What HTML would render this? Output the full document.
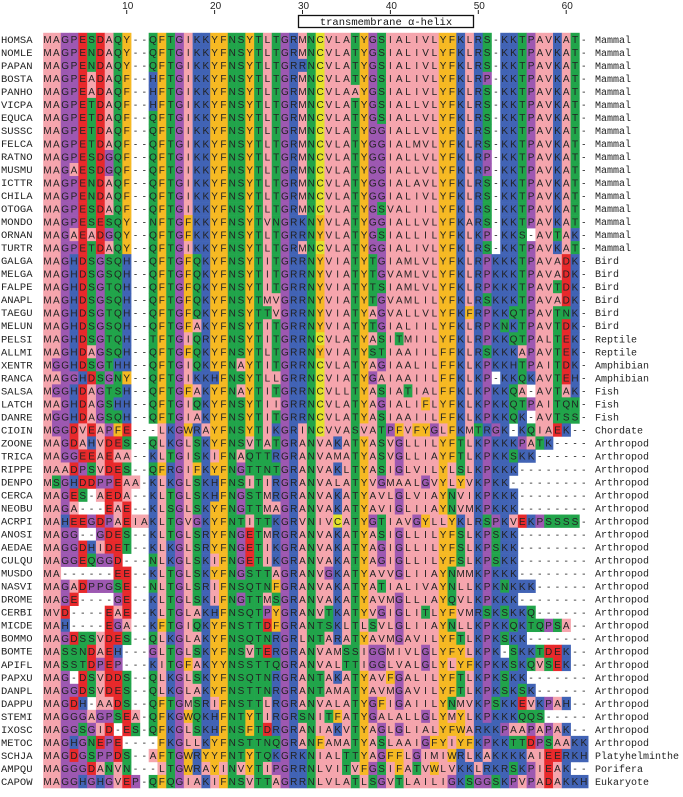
<!DOCTYPE html>
<html><head><meta charset="utf-8"><style>
body{margin:0;background:#fff;width:683px;height:797px;overflow:hidden}
svg{display:block}
.res{font-family:"Liberation Sans",sans-serif;font-size:10px;fill:#222}
.nm{font-family:"Liberation Mono",monospace;font-size:10.5px;fill:#222}
.gl{font-family:"Liberation Mono",monospace;font-size:10px;fill:#222}
.tk{font-family:"Liberation Sans",sans-serif;font-size:10px;fill:#222}
</style></head><body>
<svg id="aln" width="683" height="797" xmlns="http://www.w3.org/2000/svg">
<g id="ruler"></g>
<g>
<rect x="298.5" y="15.5" width="175" height="12" fill="#fff" stroke="#111" stroke-width="1.3"/>
<text x="386" y="25" text-anchor="middle" style="font-family:'Liberation Mono',monospace;font-size:10.5px" fill="#111">transmembrane α-helix</text>
</g>
<g id="rows"></g>
</svg>
<script>
const names=["HOMSA","NOMLE","PAPAN","BOSTA","PANHO","VICPA","EQUCA","SUSSC","FELCA","RATNO","MUSMU","ICTTR","CHILA","OTOGA","MONDO","ORNAN","TURTR","GALGA","MELGA","FALPE","ANAPL","TAEGU","MELUN","PELSI","ALLMI","XENTR","RANCA","SALSA","LATCH","DANRE","CIOIN","ZOONE","TRICA","RIPPE","DENPO","CERCA","NEOBU","ACRPI","ANOSI","AEDAE","CULQU","MUSDO","NASVI","DROME","CERBI","MICDE","BOMMO","BOMTE","APIFL","PAPXU","DANPL","DAPPU","STEMI","IXOSC","METOC","SCHJA","AMPQU","CAPOW"];
const seqs=[
"MAGPESDAQY--QFTGIKKYFNSYTLTGRMNCVLATYGSIALIVLYFKLRS-KKTPAVKAT-",
"MAGPENDAQY--QFTGIKKYFNSYTLTGRMNCVLATYGSIALIVLYFKLRS-KKTPAVKAT-",
"MAGPENDAQY--QFTGIKKYFNSYTLTGRRNCVLATYGSIALIVLYFKLRS-KKTPAVKAT-",
"MAGPEADAQF--HFTGIKKYFNSYTLTGRMNCVLATYGSIALIVLYFKLRP-KKTPAVKAT-",
"MAGPEADAQF--HFTGIKKYFNSYTLTGRMNCVLAAYGSIALIVLYFKLRS-KKTPAVKAT-",
"MAGPETDAQF--HFTGIKKYFNSYTLTGRMNCVLATYGSIALLVLYFKLRS-KKTPAVKAT-",
"MAGPETDAQF--QFTGIKKYFNSYTLTGRMNCVLATYGSIALLVLYFKLRS-KKTPAVKAT-",
"MAGPETDAQF--QFTGIKKYFNSYTLTGRMNCVLATYGGIALLVLYFKLRS-KKTPAVKAT-",
"MAGPETDAQF--QFTGIKKYFNSYTLTGRMNCVLATYGGIALMVLYFKLRS-KKTPAVKAT-",
"MAGPESDGQF--QFTGIKKYFNSYTLTGRMNCVLATYGGIALLVLYFKLRP-KKTPAVKAT-",
"MAGAESDGQF--QFTGIKKYFNSYTLTGRMNCVLATYGGIALLVLYFKLRP-KKTPAVKAT-",
"MAGPENDAQF--QFTGIKKYFNSYTLTGRMNCVLATYGGIALAVLYFKLRS-KKTPAVKAT-",
"MAGPENDAQF--QFTGIKKYFNSYTLTGRMNCVLATYGGIALIVLYFKLRS-KKTPAVKAT-",
"MAGPESDAQF--QFTGIKKYFNSYTLTGRMNCVLATYGSVALIILYFKLRS-KKTPAVKAT-",
"MAGPESESQY--NFTGFKKYFNSYTVNGRKNYVLATYGGIALLVLYFKARS-KKTPAVKAT-",
"MAGAEADGQY--QFTGFKKYFNSYTLTGRRNYVLATYGSIALLILYFKLKP-KKS-AVTAK-",
"MAGPETDAQY--QFTGIKKYFNSYTLTGRMNCVLATYGGIALIVLYFKLRS-KKTPAVKAT-",
"MAGHDSGSQH--QFTGFQKYFNSYTITGRRNYVIATYTGIAMLVLYFKLRPKKKTPAVADK-",
"MAGHDSGSQH--QFTGFQKYFNSYTITGRRNYVIATYTGVAMLVLYFKLRPKKKTPAVADK-",
"MAGHDSGTQH--QFTGFQKYFNSYTITGRRNYVIATYTSIAMLVLYFKLRPKKKTPAVTDK-",
"MAGHDSGSQH--QFTGFQKYFNSYTMVGRRNYVIATYTGVAMLILYFKLRSKKKTPAVADK-",
"MAGHDSGTQH--QFTGFQKYFNSYTTVGRRNYVIATYAGVALLVLYFKFRPKKQTPAVTNK-",
"MAGHDSGSQH--QFTGFAKYFNSYTITGRRNYVIATYTGIALIILYFKLRPKNKTPAVTDK-",
"MAGHDSGTQH--TFTGIQRYFNSYTITGRRNCVLATYASITMIILYFKLRPKKQTPALTEK-",
"MAGHDAGSQH--QFTGFQKYFNSYTLTGRRNYVIATYSTIAAIILFFKLRSKKKAPAVTEK-",
"MGGHDSGTHH--QFTGIQKYFNAYTITGRRNCVLATYAGIAALILFFKLKPKKHTPAITDK-",
"MAGGHDSGNY--QFTGIKKHFNSYTLLGRRNCVIATYGAIAAIILFFKLKP-KKQKAVTEH-",
"MGGHDAGTSH--QFTGFAKYFNAYTITGRRNCVLLTYASIATIALFFKLKPKKQA-AVTAK-",
"MAGHDAGSHH--QFTGIQKYFNSYTIIGRRNCVLATYAGIALIFLYFKLKPKKQTPAITQN-",
"MGGHDAGSQH--QFTGIAKYFNSYTITGRRNCVLATYASIAAIILFFKLKPKKQK-AVTSS-",
"MGGDVEAPFE---LKGWRAYFNSYTIKGRINCVVASVATPFVFYGLFKMTRGK-KQIAEK--",
"MAGDAHVDES--QLKGLSKYFNSVTATGRANVAKATYASVGLLILYFTLKPKKKPATK----",
"MAGGEEAEAA--KLTGISKIFNAQTTRGRANVAMATYASVGLLIAYFTLKPKKSKK------",
"MAADPSVDES--QFRGIFKYFNGTTNTGRANVAKLTYASIGLVILYLSLKPKKK--------",
"MSGHDDPPEAA-KLKGLSKHFNSITIRGRANVALATYVGMAALGVYLYVKPKK---------",
"MAGES-AEDA--KLTGLSKHFNGSTMRGRANVAKATYAVLGLVIAYNVIKPKKK--------",
"MAGA---EAE--KLSGLSKYFNGTTMAGRANVAKATYAVIGLIIAYNVMKPKKK--------",
"MAHEEGDPAEIAKLTGVGKYFNTITTKGRVNIVCATYGTIAVGYLLYKLRSPKVEKPSSSS-",
"MAGG--GDES--KLTGLSRYFNGETMRGRANVAKATYASIGLLILYFSLKPSKK--------",
"MAGGDHIDET--KLKGLSRYFNGETIKGRANVAKATYAGIGLLILYFSLKPSKK--------",
"MAGGEQGGD---NLKGLSKIFNGETIKGRANVAKATYAGIGLLILYFSLKPSKK--------",
"MA------EE--KLTGLSKYFNGSTTAGRANVGKATYAVVGLIIAYNMMKPKKK--------",
"MAGADPPGSE--NLTGLSRIFNSQTNFGRANVAKATYATIALIVAYNLLKPKNKKK------",
"MAGE----GE--KLTGLSKIFNGTTMSGRANVAKATYAVMGLLIAYQVLKPKKK--------",
"MVD----EAE--KLTGLAKHFNSQTPYGRANVTKATYVGIGLITLYFVMRSKSKKQ------",
"MAH----EGA--KFTGIQKYFNSTTDFGRANTSKLTLSVLGLIIAYNLLKPKKQKTQPSA--",
"MAGDSSVDES--QLKGLAKYFNSQTNRGRLNTARATYAVMGAVILYFTLKPKSKK-------",
"MASSNDAEH---GLTGLSKYFNSVTERGRANVAMSSIGGMIVLGLYFYLKPK-SKKTDEK--",
"MASSTDPEP---KITGFAKYYNSSTTQGRANVALTTIGGLVALGLYLYFKPKKSKQVSEK--",
"MAG-DSVDDS--QLKGLSKYFNSQTNRGRANTAKATYAVFGALILYFTLKPKSKK-------",
"MAGGDSVDES--QLKGLAKYFNSTTNRGRANTAMATYAVMGAVILYFTLKPKSKSK------",
"MAGDH-AADS--QFTGMSRIFNSTTLRGRANVALATYGFIGAIILYNMVKPSKKEVKPAH--",
"MAGGGAGPSEA-QFKGWQKHFNTYTIRGRSNITFATYGALALLGLYMYLKPKKKQQS-----",
"MAGGSGID-ES-QFKGLSKHFNSFTDRGRANIAKVTYAGLGLIALYFWARKKPAAPAPAK--",
"MAGHGNEPE----FKGLLKYFNSTTNQGRANFAMATYASLAAIGFYIYFKPKKTTDPSAAKK",
"MAGDGSPPDS--AFTGWRYYFNTYTQKGRKNIALTTYAGFFLGIMIWRLKAKKKKAIEERKH",
"MAGGGDANVN---LTGWRAYINVYTIPGRRNLVITVFGSIFATVWLVKKLRKRSKPIEAK--",
"MAGGHGHGVEP-QFQGIAKIFNSVTTAGRRNLVLATLSGVTLAILIGKSGGSKPVPADAKKH"];
const groups=["Mammal","Mammal","Mammal","Mammal","Mammal","Mammal","Mammal","Mammal","Mammal","Mammal","Mammal","Mammal","Mammal","Mammal","Mammal","Mammal","Mammal","Bird","Bird","Bird","Bird","Bird","Bird","Reptile","Reptile","Amphibian","Amphibian","Fish","Fish","Fish","Chordate","Arthropod","Arthropod","Arthropod","Arthropod","Arthropod","Arthropod","Arthropod","Arthropod","Arthropod","Arthropod","Arthropod","Arthropod","Arthropod","Arthropod","Arthropod","Arthropod","Arthropod","Arthropod","Arthropod","Arthropod","Arthropod","Arthropod","Arthropod","Arthropod","Platyhelminthe","Porifera","Eukaryote"];
const tickLabels=[10,20,30,40,50,60];

const NS="http://www.w3.org/2000/svg";
const X0=43.2, CW=8.79, Y0=32.8, RH=13.02;
const colX=c=>X0+(c-1)*CW;
const rowY=r=>Y0+r*RH;
const col={I:"#f5a5ad",L:"#f5a5ad",V:"#f5a5ad",A:"#f5a5ad",M:"#f5a5ad",F:"#f6b923",W:"#f6b923",Y:"#f6b923",K:"#4163b5",R:"#4163b5",H:"#4163b5",D:"#e8292b",E:"#e8292b",S:"#21a44a",T:"#21a44a",N:"#21a44a",Q:"#21a44a",P:"#9d58b1",G:"#9d58b1",C:"#e3e32a"};
function mk(t,a,p){const e=document.createElementNS(NS,t);for(const k in a)e.setAttribute(k,a[k]);p.appendChild(e);return e;}
const ruler=document.getElementById('ruler');
tickLabels.forEach(v=>{
  const cx=colX(v)+CW/2;
  const ln=mk('line',{x1:cx,x2:cx,y1:10,y2:14,stroke:'#222','stroke-width':1},ruler);
  
  
  const t=mk('text',{x:cx+1,y:9,'text-anchor':'middle',class:'tk'},ruler);
  t.textContent=v;
  
  
});
const rows=document.getElementById('rows');
seqs.forEach((s,r)=>{
  const g=mk('g',{},rows);
  
  
  const y=rowY(r);
  const n=mk('text',{x:1,y:y+10,class:'nm'},g);
  n.textContent=names[r];
  
  
  for(let i=0;i<s.length;i++){
    const ch=s[i];
    if(col[ch]){
      const rc=mk('rect',{x:colX(i+1),y:y,width:CW+0.3,height:RH+0.3,fill:col[ch]},g);
      
      
    }
    const t=mk('text',{x:colX(i+1)+CW/2,y:y+10.3,'text-anchor':'middle',class:'res'},g);
    t.textContent=ch;
  }
  const l=mk('text',{x:595,y:y+10,class:'gl'},g);
  l.textContent=groups[r];
  
  
});
</script>
</body></html>
